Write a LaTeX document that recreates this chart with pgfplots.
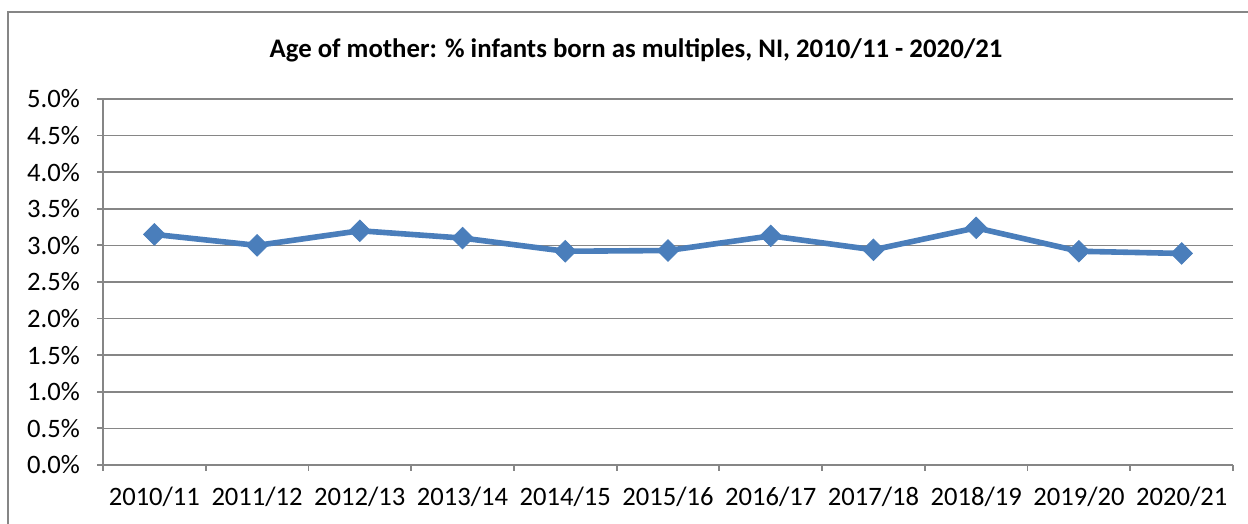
\documentclass[border=0pt]{standalone}
\usepackage{pgfplots}
\pgfplotsset{compat=1.18}
\usepackage{fontspec}
\setmainfont{Carlito}
\definecolor{linecol}{HTML}{4A7EBB}
\definecolor{gridcol}{HTML}{868686}
\begin{document}
\begin{tikzpicture}
\path[use as bounding box] (-51.5pt,-29.5pt) rectangle (572.5pt,232.5pt);
\draw[gridcol, line width=0.9pt] (-47.5pt,-40pt) -- (-47.5pt,226.5pt) -- (590pt,226.5pt);
\node[font=\bfseries\fontsize{13.4}{15}\selectfont, anchor=center] at (266.5pt,207.5pt) {Age of mother: \% infants born as multiples, NI, 2010/11 - 2020/21};
\begin{axis}[
  at={(0pt,0pt)}, anchor=south west,
  scale only axis, width=565pt, height=183pt,
  xmin=-0.5, xmax=10.5, ymin=0, ymax=5,
  xtick={-0.5,0.5,...,10.5},
  x tick label as interval,
  xticklabels={2010/11,2011/12,2012/13,2013/14,2014/15,2015/16,2016/17,2017/18,2018/19,2019/20,2020/21},
  ytick={0,0.5,...,5},
  yticklabel={\pgfmathprintnumber[fixed,fixed zerofill,precision=1]{\tick}\%},
  /pgf/number format/assume math mode=true,
  ymajorgrids,
  grid style={gridcol, line width=0.8pt},
  axis line style={gridcol, line width=0.9pt},
  axis x line*=bottom, axis y line*=left,
  tick style={gridcol, line width=0.9pt},
  major tick length=3pt,
  tick align=outside,
  every tick label/.append style={font=\fontsize{13.3}{15}\selectfont, black},
  xticklabel style={yshift=-4.5pt},
  yticklabel style={xshift=-5pt},
]
\addplot[color=linecol, line width=2.8pt, mark=square*, mark size=3.8pt, mark options={rotate=45, fill=linecol, line width=0.4pt}] coordinates {
(0,3.15) (1,3.00) (2,3.20) (3,3.10) (4,2.92) (5,2.93) (6,3.13) (7,2.94) (8,3.24) (9,2.92) (10,2.89)
};
\end{axis}
\end{tikzpicture}
\end{document}
